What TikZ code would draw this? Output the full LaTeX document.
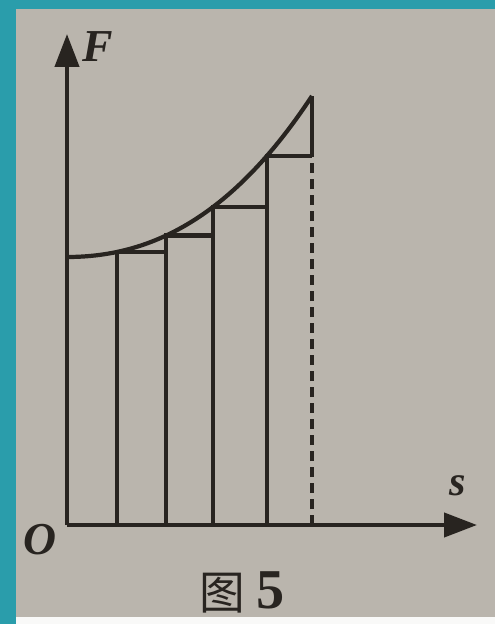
\documentclass[tikz,border=0pt]{standalone}
\usepackage{fontspec}
\setmainfont{Liberation Serif}
\newfontfamily\cjk{Noto Sans CJK SC}
\usetikzlibrary{arrows.meta}
\definecolor{frameteal}{RGB}{42,157,171}
\definecolor{paper}{RGB}{186,181,173}
\definecolor{ink}{RGB}{40,36,32}

\begin{document}
\begin{tikzpicture}[x=0.02cm, y=-0.02cm,
  ink line/.style={ink, line width=2.4pt},
  axis arrow/.style={ink line, -{Triangle[length=0.66cm, width=0.48cm]}},
  label font/.style={font=\fontsize{25}{30}\selectfont\itshape, text=ink, inner sep=0pt},
  declare function={Fy(\x)=525-268-18.5*((\x-67)/100)^2-3.4*((\x-67)/100)^3;}]
% Background: frame and paper
\useasboundingbox (0,0) rectangle (495,624);
\fill[frameteal] (0,0) rectangle (495,624);
\fill[paper] (16,9) rectangle (495,617);
\fill[white!92!paper] (16,617) rectangle (495,624);

% Axes
\coordinate (O) at (67,525);
\coordinate (ytip) at (67,34);
\coordinate (xtip) at (477,525);
\draw[axis arrow] (O) -- (ytip);
\draw[axis arrow] (O) -- (xtip);
\node[label font, font=\fontsize{26}{30}\selectfont\bfseries\itshape] (F) at (98,47) {F};
\node[label font, font=\fontsize{24}{30}\selectfont\bfseries\itshape] (s) at (458,486) {s};
\node[label font, font=\fontsize{26}{30}\selectfont\bfseries\itshape] (o) at (40,540) {O};

% Curve F(s)
\draw[ink line] plot[domain=67:312, samples=60] (\x, {Fy(\x)});

% Steps under the curve
\foreach \i/\xa/\xb in {1/117/166, 2/166/213, 3/213/267, 4/267/312} {
  \coordinate (b\i) at (\xa,525);
  \coordinate (p\i) at (\xa,{Fy(\xa)});
  \coordinate (q\i) at (\xb,{Fy(\xa)});
  \draw[ink line] (b\i) -- (p\i) -- (q\i);
}
\coordinate (b5) at (312,525);
\coordinate (p5) at (312,{Fy(312)});
\draw[ink line] (q4) -- (p5);
\draw[ink, line width=2.8pt, dash pattern=on 0.2cm off 0.12cm] (b5) -- (q4);

% Caption
\node[inner sep=0pt, text=ink, font=\cjk\fontsize{26}{28}\selectfont] (cap) at (222,593) {图};
\node[inner sep=0pt, text=ink, font=\fontsize{32}{34}\selectfont\bfseries] (capnum) at (271,590) {5};
\end{tikzpicture}
\end{document}
